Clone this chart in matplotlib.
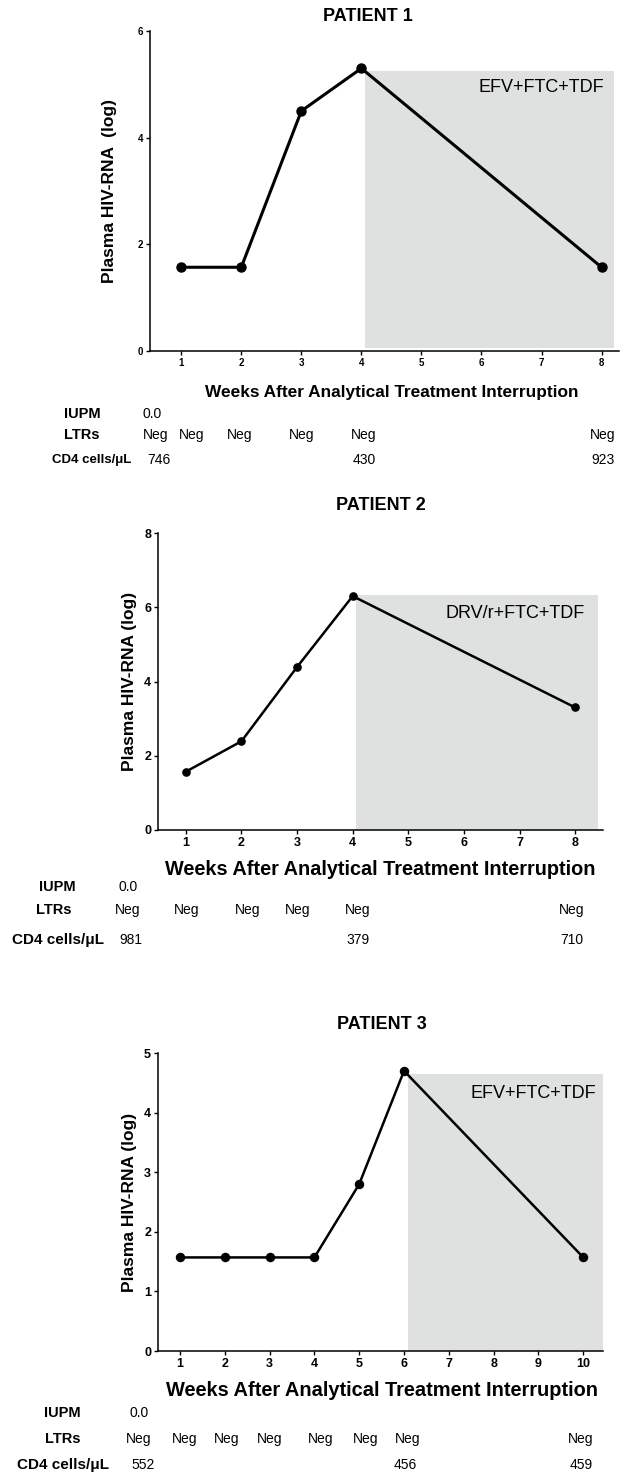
import matplotlib
matplotlib.use('Agg')
import matplotlib.pyplot as plt
from matplotlib import transforms

plt.rcParams['font.family'] = ['Liberation Sans', 'DejaVu Sans']

W, H = 621, 1476

# --- data ---
titles = ['PATIENT 1', 'PATIENT 2', 'PATIENT 3']
week_ticks = [
    [1, 2, 3, 4, 5, 6, 7, 8],
    [1, 2, 3, 4, 5, 6, 7, 8],
    [1, 2, 3, 4, 5, 6, 7, 8, 9, 10],
]
weeks = [
    [1, 2, 3, 4, 8],
    [1, 2, 3, 4, 8],
    [1, 2, 3, 4, 5, 6, 10],
]
hiv_rna = [
    [1.57, 1.57, 4.5, 5.3, 1.57],
    [1.57, 2.39, 4.39, 6.3, 3.3],
    [1.57, 1.57, 1.57, 1.57, 2.8, 4.7, 1.57],
]
y_max = [6, 8, 5]
y_ticks = [[0, 2, 4, 6], [0, 2, 4, 6, 8], [0, 1, 2, 3, 4, 5]]
regimens = ['EFV+FTC+TDF', 'DRV/r+FTC+TDF', 'EFV+FTC+TDF']
ylabels = ['Plasma HIV-RNA  (log)', 'Plasma HIV-RNA (log)', 'Plasma HIV-RNA (log)']

iupm = ['0.0', '0.0', '0.0']
ltr_values = [
    ['Neg'] * 6,
    ['Neg'] * 6,
    ['Neg'] * 8,
]
cd4_values = [
    ['746', '430', '923'],
    ['981', '379', '710'],
    ['552', '456', '459'],
]

# --- layout (pixels of the 621x1476 picture) ---
axes_px = [(150, 31, 619, 351), (158, 533, 603, 830), (158, 1053, 603, 1351)]
xlims = [(-0.52, 7.29), (-0.5, 7.5), (-0.49, 9.44)]
# shaded treatment period: x start, x end, y bottom, y top
shade = [(3.06, 7.2, 0.05, 5.25), (3.06, 7.41, 0.0, 6.33), (5.09, 9.44, 0.0, 4.64)]
iupm_col = [-0.48, -1.03, -0.92]
ltr_cols = [
    [-0.43, 0.18, 0.98, 2.01, 3.03, 7.02],
    [-1.04, 0.02, 1.12, 2.01, 3.09, 6.94],
    [-0.92, 0.11, 1.05, 1.99, 3.13, 4.15, 5.09, 8.95],
]
cd4_cols = [[-0.38, 3.04, 7.02], [-0.99, 3.09, 6.94], [-0.83, 5.02, 8.95]]
row_y = [(414, 435, 460), (887, 910, 940), (1413, 1439, 1465)]
row_label_x = [(82, 82, 92), (57, 54, 58), (62, 63, 63)]
title_pos = [(0.465, 1.044), (0.50, 1.094), (0.503, 1.094)]
regimen_pos = [(604, 88), (585, 613), (596, 1093)]
ylabel_x = [-0.070, -0.047, -0.047]
xlabel_pos = [(0.515, -0.105), (0.50, -0.10), (0.503, -0.10)]
xlabel_size = [12.4, 14.3, 14.4]
tick_size = [7, 9, 9]
lw = [2.2, 1.8, 1.8]
ms = [6.5, 5.2, 5.8]
cd4_label_size = [9.5, 11, 11]

fig = plt.figure(figsize=(W / 100, H / 100), dpi=100)

for i in range(3):
    x0, y0, x1, y1 = axes_px[i]
    ax = fig.add_axes([x0 / W, 1 - y1 / H, (x1 - x0) / W, (y1 - y0) / H])
    ticks = week_ticks[i]
    xs = [ticks.index(w) for w in weeks[i]]

    s0, s1, sbot, stop = shade[i]
    ax.fill_between([s0, s1], sbot, stop, color='#dfe0e0', lw=0, zorder=0)
    ax.plot(xs, hiv_rna[i], color='black', lw=lw[i], marker='o', ms=ms[i], zorder=3, clip_on=False)

    ax.set_xlim(*xlims[i])
    ax.set_ylim(0, y_max[i])
    ax.set_xticks(range(len(ticks)))
    ax.set_xticklabels([str(t) for t in ticks])
    ax.set_yticks(y_ticks[i])
    for sp in ['top', 'right']:
        ax.spines[sp].set_visible(False)
    for sp in ['left', 'bottom']:
        ax.spines[sp].set_linewidth(1.1)
    ax.tick_params(direction='out', length=3, width=1, labelsize=tick_size[i], pad=2)
    for lab in ax.get_xticklabels() + ax.get_yticklabels():
        lab.set_fontweight('bold')

    ax.set_ylabel(ylabels[i], fontsize=12.5, fontweight='bold')
    ax.yaxis.set_label_coords(ylabel_x[i], 0.5)
    ax.set_xlabel('Weeks After Analytical Treatment Interruption', fontsize=xlabel_size[i], fontweight='bold')
    ax.xaxis.set_label_coords(*xlabel_pos[i])
    ax.text(title_pos[i][0], title_pos[i][1], titles[i], transform=ax.transAxes,
            ha='center', va='center', fontsize=13, fontweight='bold')
    fig.text(regimen_pos[i][0] / W, 1 - regimen_pos[i][1] / H, regimens[i],
             ha='right', va='center', fontsize=13)

    # table below the axis
    tr = transforms.blended_transform_factory(ax.transData, fig.transFigure)
    ry = [1 - y / H for y in row_y[i]]
    lx = [x / W for x in row_label_x[i]]
    fig.text(lx[0], ry[0], 'IUPM', ha='center', va='center', fontsize=10.5, fontweight='bold')
    fig.text(lx[1], ry[1], 'LTRs', ha='center', va='center', fontsize=10.5, fontweight='bold')
    fig.text(lx[2], ry[2], 'CD4 cells/\u03bcL', ha='center', va='center',
             fontsize=cd4_label_size[i], fontweight='bold')
    ax.text(iupm_col[i], ry[0], iupm[i], transform=tr, ha='center', va='center', fontsize=10)
    for cx, v in zip(ltr_cols[i], ltr_values[i]):
        ax.text(cx, ry[1], v, transform=tr, ha='center', va='center', fontsize=10)
    for cx, v in zip(cd4_cols[i], cd4_values[i]):
        ax.text(cx, ry[2], v, transform=tr, ha='center', va='center', fontsize=10)

fig.savefig('out.png', dpi=100)
